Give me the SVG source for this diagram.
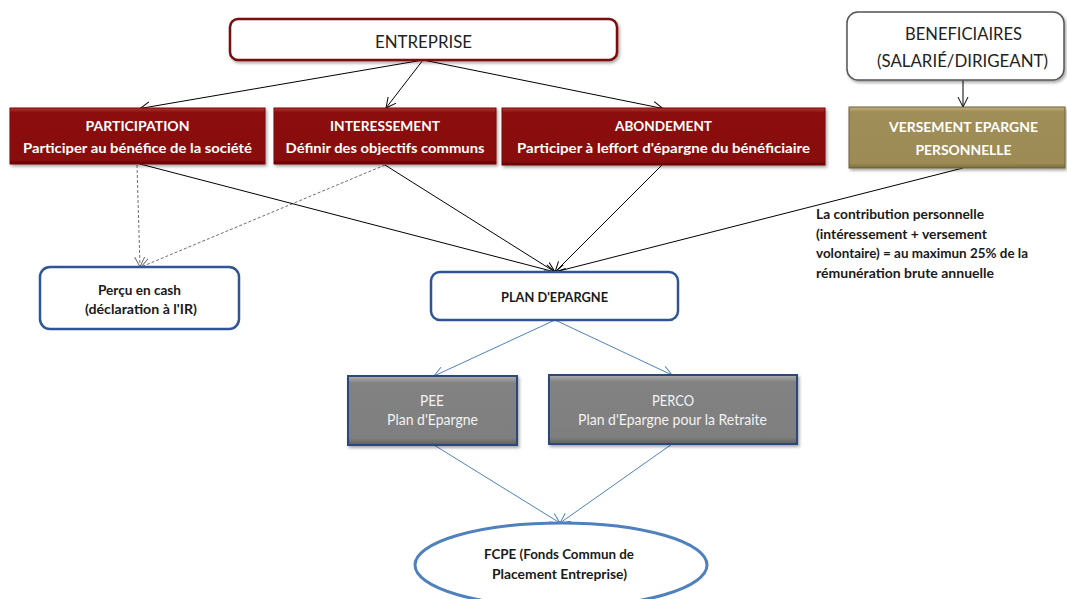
<svg xmlns="http://www.w3.org/2000/svg" width="1067" height="599" viewBox="0 0 1067 599">
<style>
  text { font-family: Lato, "Liberation Sans", sans-serif; text-anchor: middle; }
  .w { fill: #ffffff; font-weight: bold; font-size: 14px; }
  .g { fill: #f2f2f2; font-size: 15px; }
  .d { fill: #1a1a1a; font-weight: bold; font-size: 13px; }
  .t { fill: #222222; font-size: 17px; }
  .ann { fill: #1a1a1a; font-weight: bold; font-size: 13px; text-anchor: start; }
  .blk { stroke: #000; stroke-width: 1; fill: none; marker-end: url(#ab); }
  .dash { stroke: #6e6e6e; stroke-width: 1; fill: none; stroke-dasharray: 3 2; marker-end: url(#ag); }
  .blu { stroke: #4F81BD; stroke-width: 1; fill: none; marker-end: url(#abl); }
  .red { fill: url(#gRed); stroke: #7a0606; stroke-width: 1; filter: url(#sh); }
  .olv { fill: url(#gOlv); stroke: #6e6136; stroke-width: 1; filter: url(#sh); }
  .gry { fill: url(#gGry); stroke: #2a4a7a; stroke-width: 2; filter: url(#sh); }
  .bl { fill: #fff; stroke: #2F5597; stroke-width: 2.5; }
</style>
<defs>
  <filter id="sh" x="-10%" y="-20%" width="120%" height="150%">
    <feDropShadow dx="1.5" dy="2" stdDeviation="1.5" flood-color="#000" flood-opacity="0.35"/>
  </filter>
  <linearGradient id="gRed" x1="0" y1="0" x2="0" y2="1">
    <stop offset="0" stop-color="#b23a3a"/>
    <stop offset="0.08" stop-color="#8c0a0a"/>
    <stop offset="0.92" stop-color="#880909"/>
    <stop offset="1" stop-color="#6a0404"/>
  </linearGradient>
  <linearGradient id="gOlv" x1="0" y1="0" x2="0" y2="1">
    <stop offset="0" stop-color="#c3b37f"/>
    <stop offset="0.08" stop-color="#9f8e58"/>
    <stop offset="0.92" stop-color="#9c8b55"/>
    <stop offset="1" stop-color="#7a6c3e"/>
  </linearGradient>
  <linearGradient id="gGry" x1="0" y1="0" x2="0" y2="1">
    <stop offset="0" stop-color="#b0b0b0"/>
    <stop offset="0.1" stop-color="#828282"/>
    <stop offset="0.9" stop-color="#7f7f7f"/>
    <stop offset="1" stop-color="#5e5e5e"/>
  </linearGradient>
  <marker id="ab" markerUnits="userSpaceOnUse" markerWidth="12" markerHeight="12" refX="10" refY="5" orient="auto" viewBox="0 0 12 10">
    <path d="M0,0 L10,5 L0,10" fill="none" stroke="#000" stroke-width="1"/>
  </marker>
  <marker id="ag" markerUnits="userSpaceOnUse" markerWidth="12" markerHeight="12" refX="10" refY="5" orient="auto" viewBox="0 0 12 10">
    <path d="M0,0 L10,5 L0,10" fill="none" stroke="#6e6e6e" stroke-width="1"/>
  </marker>
  <marker id="abl" markerUnits="userSpaceOnUse" markerWidth="12" markerHeight="12" refX="10" refY="5" orient="auto" viewBox="0 0 12 10">
    <path d="M0,0 L10,5 L0,10" fill="none" stroke="#4F81BD" stroke-width="1"/>
  </marker>
</defs>
<rect width="1067" height="599" fill="#ffffff"/>

<g id="connectors">
  <line class="blk" x1="423" y1="60" x2="140" y2="108.5"/>
  <line class="blk" x1="423" y1="60" x2="386" y2="108"/>
  <line class="blk" x1="423" y1="60" x2="663" y2="108.5"/>
  <line class="blk" x1="963" y1="80" x2="963" y2="107"/>
  <line class="dash" x1="137" y1="165" x2="140" y2="267"/>
  <line class="dash" x1="385" y1="165" x2="141" y2="267"/>
  <line class="blk" x1="140" y1="164" x2="555" y2="272"/>
  <line class="blk" x1="385" y1="165" x2="555" y2="272"/>
  <line class="blk" x1="662" y1="165" x2="555" y2="272"/>
  <line class="blk" x1="963" y1="168" x2="555" y2="272"/>
  <line class="blu" x1="555" y1="320" x2="434" y2="376"/>
  <line class="blu" x1="555" y1="320" x2="672" y2="375"/>
  <line class="blu" x1="434" y1="445" x2="560" y2="523"/>
  <line class="blu" x1="672" y1="444" x2="560" y2="523"/>
</g>

<g id="entreprise">
  <rect x="230" y="19" width="387" height="41" rx="8" fill="#fff" stroke="#7b0a0a" stroke-width="2.5" filter="url(#sh)"/>
  <text class="t" x="423.5" y="48" textLength="97" lengthAdjust="spacingAndGlyphs">ENTREPRISE</text>
</g>

<g id="beneficiaires">
  <rect x="847" y="12" width="217" height="68" rx="11" fill="#fff" stroke="#555" stroke-width="1.5" filter="url(#sh)"/>
  <text class="t" x="963.5" y="40" textLength="117" lengthAdjust="spacingAndGlyphs">BENEFICIAIRES</text>
  <text class="t" x="962.5" y="67" textLength="171" lengthAdjust="spacingAndGlyphs">(SALARIÉ/DIRIGEANT)</text>
</g>

<g id="participation">
  <rect class="red" x="10" y="108" width="255" height="56"/>
  <text class="w" x="137.5" y="131" textLength="104" lengthAdjust="spacingAndGlyphs">PARTICIPATION</text>
  <text class="w" x="137.5" y="153" textLength="229" lengthAdjust="spacingAndGlyphs">Participer au bénéfice de la société</text>
</g>

<g id="interessement">
  <rect class="red" x="274" y="108" width="222" height="56"/>
  <text class="w" x="385" y="131" textLength="110" lengthAdjust="spacingAndGlyphs">INTERESSEMENT</text>
  <text class="w" x="385" y="153" textLength="199" lengthAdjust="spacingAndGlyphs">Définir des objectifs communs</text>
</g>

<g id="abondement">
  <rect class="red" x="502" y="108" width="323" height="57"/>
  <text class="w" x="663.5" y="131" textLength="97" lengthAdjust="spacingAndGlyphs">ABONDEMENT</text>
  <text class="w" x="663.5" y="153" textLength="293" lengthAdjust="spacingAndGlyphs">Participer à leffort d'épargne du bénéficiaire</text>
</g>

<g id="versement">
  <rect class="olv" x="849" y="107" width="216" height="61"/>
  <text class="w" x="963.5" y="132" textLength="149" lengthAdjust="spacingAndGlyphs">VERSEMENT EPARGNE</text>
  <text class="w" x="963.5" y="155" textLength="96" lengthAdjust="spacingAndGlyphs">PERSONNELLE</text>
</g>

<g id="annotation">
  <text class="ann" x="816" y="219" textLength="168" lengthAdjust="spacingAndGlyphs">La contribution personnelle</text>
  <text class="ann" x="816" y="239" textLength="171" lengthAdjust="spacingAndGlyphs">(intéressement + versement</text>
  <text class="ann" x="816" y="258" textLength="212" lengthAdjust="spacingAndGlyphs">volontaire)  = au maximun 25% de la</text>
  <text class="ann" x="816" y="278" textLength="178" lengthAdjust="spacingAndGlyphs">rémunération brute  annuelle</text>
</g>

<g id="percu">
  <rect class="bl" x="40" y="267" width="199" height="62" rx="10"/>
  <text class="d" x="139.5" y="295" textLength="83" lengthAdjust="spacingAndGlyphs">Perçu en cash</text>
  <text class="d" x="141" y="314" textLength="112" lengthAdjust="spacingAndGlyphs">(déclaration à l'IR)</text>
</g>

<g id="plan">
  <rect class="bl" x="431" y="272" width="247" height="48" rx="9"/>
  <text class="d" x="554.5" y="302" textLength="107" lengthAdjust="spacingAndGlyphs">PLAN D'EPARGNE</text>
</g>

<g id="pee">
  <rect class="gry" x="348" y="376" width="169" height="69"/>
  <text class="g" x="432" y="406" textLength="24" lengthAdjust="spacingAndGlyphs">PEE</text>
  <text class="g" x="432.5" y="425" textLength="91" lengthAdjust="spacingAndGlyphs">Plan d'Epargne</text>
</g>

<g id="perco">
  <rect class="gry" x="549" y="375" width="248" height="69"/>
  <text class="g" x="673" y="406" textLength="42" lengthAdjust="spacingAndGlyphs">PERCO</text>
  <text class="g" x="672.5" y="425" textLength="189" lengthAdjust="spacingAndGlyphs">Plan d'Epargne pour la Retraite</text>
</g>

<g id="fcpe">
  <ellipse cx="561" cy="565" rx="146" ry="42" fill="#fff" stroke="#4F81BD" stroke-width="3"/>
  <text class="d" x="559" y="559" textLength="150" lengthAdjust="spacingAndGlyphs">FCPE (Fonds Commun de</text>
  <text class="d" x="559.5" y="579" textLength="135" lengthAdjust="spacingAndGlyphs">Placement Entreprise)</text>
</g>
</svg>
